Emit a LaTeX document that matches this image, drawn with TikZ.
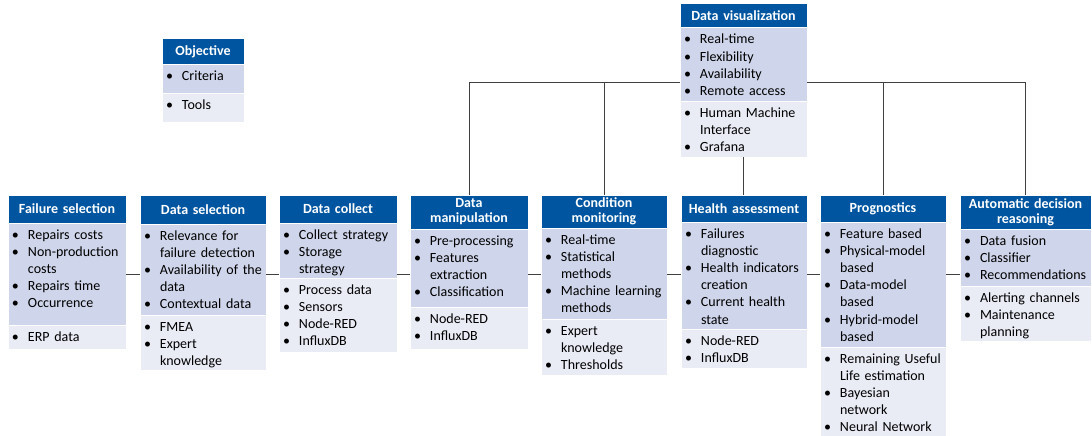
\documentclass[tikz,border=0pt]{standalone}
\usepackage{fontspec}
\setmainfont{Carlito}
\usetikzlibrary{positioning}
\definecolor{MainBlue}{HTML}{0055A0}
\definecolor{BandDark}{HTML}{CFD5EA}
\definecolor{BandLight}{HTML}{E9EBF5}
\definecolor{LineGray}{HTML}{404040}
\newcommand{\bitem}[1]{\hangindent=16pt\hangafter=1\makebox[16pt][l]{\textbullet}#1\par}

\begin{document}
\begin{tikzpicture}[x=1pt, y=-1pt,
    hd/.style={fill=MainBlue, draw=white, line width=1pt, outer sep=0pt, text=white,
      anchor=north west, align=center, inner xsep=4pt, inner ysep=0pt, minimum height=#1,
      font=\fontsize{14}{15}\selectfont\bfseries},
    band/.style={draw=white, line width=1pt, outer sep=0pt, align=left,
      inner xsep=4pt, inner ysep=4pt, text height=12pt,
      font=\fontsize{14}{17.2}\selectfont},
    dband/.style={band, fill=BandDark, text depth=#1},
    lband/.style={band, fill=BandLight, text depth=#1},
    conn/.style={draw=LineGray, line width=1pt}]
  \useasboundingbox (0,0) rectangle (1092,436);

  % Legend
  \node[hd=26pt, text width=74pt] (ob-h) at (162,39) {Objective};
  \node[dband=8pt, text width=74pt, below=0pt of ob-h] (ob-d) {\bitem{Criteria}};
  \node[lband=9pt, text width=74pt, below=0pt of ob-d] (ob-l) {\bitem{Tools}};

  % Failure selection
  \node[hd=28pt, text width=110pt] (fs-h) at (8,195) {Failure selection};
  \node[dband=82pt, text width=110pt, below=0pt of fs-h] (fs-d)
    {\bitem{Repairs costs}\bitem{Non-production\newline costs}\bitem{Repairs time}\bitem{Occurrence}};
  \node[lband=4pt, text width=110pt, below=0pt of fs-d] (fs-l) {\bitem{ERP data}};

  % Data selection
  \node[hd=29pt, text width=118pt] (ds-h) at (140,195) {Data selection};
  \node[dband=71pt, text width=118pt, below=0pt of ds-h] (ds-d)
    {\bitem{Relevance for\newline failure detection}\bitem{Availability of the\newline data}\bitem{Contextual data}};
  \node[lband=35pt, text width=118pt, below=0pt of ds-d] (ds-l)
    {\bitem{FMEA}\bitem{Expert\newline knowledge}};

  % Data collect
  \node[hd=28pt, text width=110pt] (dc-h) at (279,195) {Data collect};
  \node[dband=35pt, text width=110pt, below=0pt of dc-h] (dc-d)
    {\bitem{Collect strategy}\bitem{Storage\newline strategy}};
  \node[lband=54pt, text width=110pt, below=0pt of dc-d] (dc-l)
    {\bitem{Process data}\bitem{Sensors}\bitem{Node-RED}\bitem{InfluxDB}};

  % Data manipulation
  \node[hd=34pt, text width=110pt] (dm-h) at (410,195) {Data\\manipulation};
  \node[dband=58pt, text width=110pt, below=0pt of dm-h] (dm-d)
    {\bitem{Pre-processing}\bitem{Features\newline extraction}\bitem{Classification}};
  \node[lband=22pt, text width=110pt, below=0pt of dm-d] (dm-l)
    {\bitem{Node-RED}\bitem{InfluxDB}};

  % Condition monitoring
  \node[hd=33pt, text width=118pt] (cm-h) at (541,195) {Condition\\monitoring};
  \node[dband=71pt, text width=118pt, below=0pt of cm-h] (cm-d)
    {\bitem{Real-time}\bitem{Statistical\newline methods}\bitem{Machine learning\newline methods}};
  \node[lband=36pt, text width=118pt, below=0pt of cm-d] (cm-l)
    {\bitem{Expert\newline knowledge}\bitem{Thresholds}};

  % Health assessment
  \node[hd=27pt, text width=118pt] (ha-h) at (681,195) {Health assessment};
  \node[dband=87pt, text width=118pt, below=0pt of ha-h] (ha-d)
    {\bitem{Failures\newline diagnostic}\bitem{Health indicators\newline creation}\bitem{Current health\newline state}};
  \node[lband=19pt, text width=118pt, below=0pt of ha-d] (ha-l)
    {\bitem{Node-RED}\bitem{InfluxDB}};

  % Prognostics
  \node[hd=27pt, text width=118pt] (pg-h) at (820,195) {Prognostics};
  \node[dband=105pt, text width=118pt, below=0pt of pg-h] (pg-d)
    {\bitem{Feature based}\bitem{Physical-model\newline based}\bitem{Data-model\newline based}\bitem{Hybrid-model\newline based}};
  \node[lband=72pt, text width=118pt, below=0pt of pg-d] (pg-l)
    {\bitem{Remaining Useful\newline Life estimation}\bitem{Bayesian\newline network}\bitem{Neural Network}};

  % Automatic decision reasoning
  \node[hd=34pt, text width=123pt] (ad-h) at (960,195) {Automatic decision\\reasoning};
  \node[dband=37pt, text width=123pt, below=0pt of ad-h] (ad-d)
    {\bitem{Data fusion}\bitem{Classifier}\bitem{Recommendations}};
  \node[lband=35pt, text width=123pt, below=0pt of ad-d] (ad-l)
    {\bitem{Alerting channels}\bitem{Maintenance\newline planning}};

  % Data visualization
  \node[hd=24pt, text width=119pt] (dv-h) at (680,4) {Data visualization};
  \node[dband=53pt, text width=119pt, below=0pt of dv-h] (dv-d)
    {\bitem{Real-time}\bitem{Flexibility}\bitem{Availability}\bitem{Remote access}};
  \node[lband=36pt, text width=119pt, below=0pt of dv-d] (dv-l)
    {\bitem{Human Machine\newline Interface}\bitem{Grafana}};

  % Chain of steps
  \coordinate (row) at (0,274);
  \draw[conn] (fs-d.east |- row) -- (ds-d.west |- row);
  \draw[conn] (ds-d.east |- row) -- (dc-d.west |- row);
  \draw[conn] (dc-d.east |- row) -- (dm-d.west |- row);
  \draw[conn] (dm-d.east |- row) -- (cm-d.west |- row);
  \draw[conn] (cm-d.east |- row) -- (ha-d.west |- row);
  \draw[conn] (ha-d.east |- row) -- (pg-d.west |- row);
  \draw[conn] (pg-d.east |- row) -- (ad-d.west |- row);

  % Visualization bus
  \coordinate (bus) at (0,82);
  \draw[conn] (dm-h.north) |- (dv-d.west |- bus);
  \draw[conn] (dv-d.east |- bus) -| (ad-h.north);
  \draw[conn] (cm-h.north) -- (cm-h.north |- bus);
  \draw[conn] (pg-h.north) -- (pg-h.north |- bus);
  \draw[conn] (dv-l.south) -- (dv-l.south |- ha-h.north);
\end{tikzpicture}
\end{document}
